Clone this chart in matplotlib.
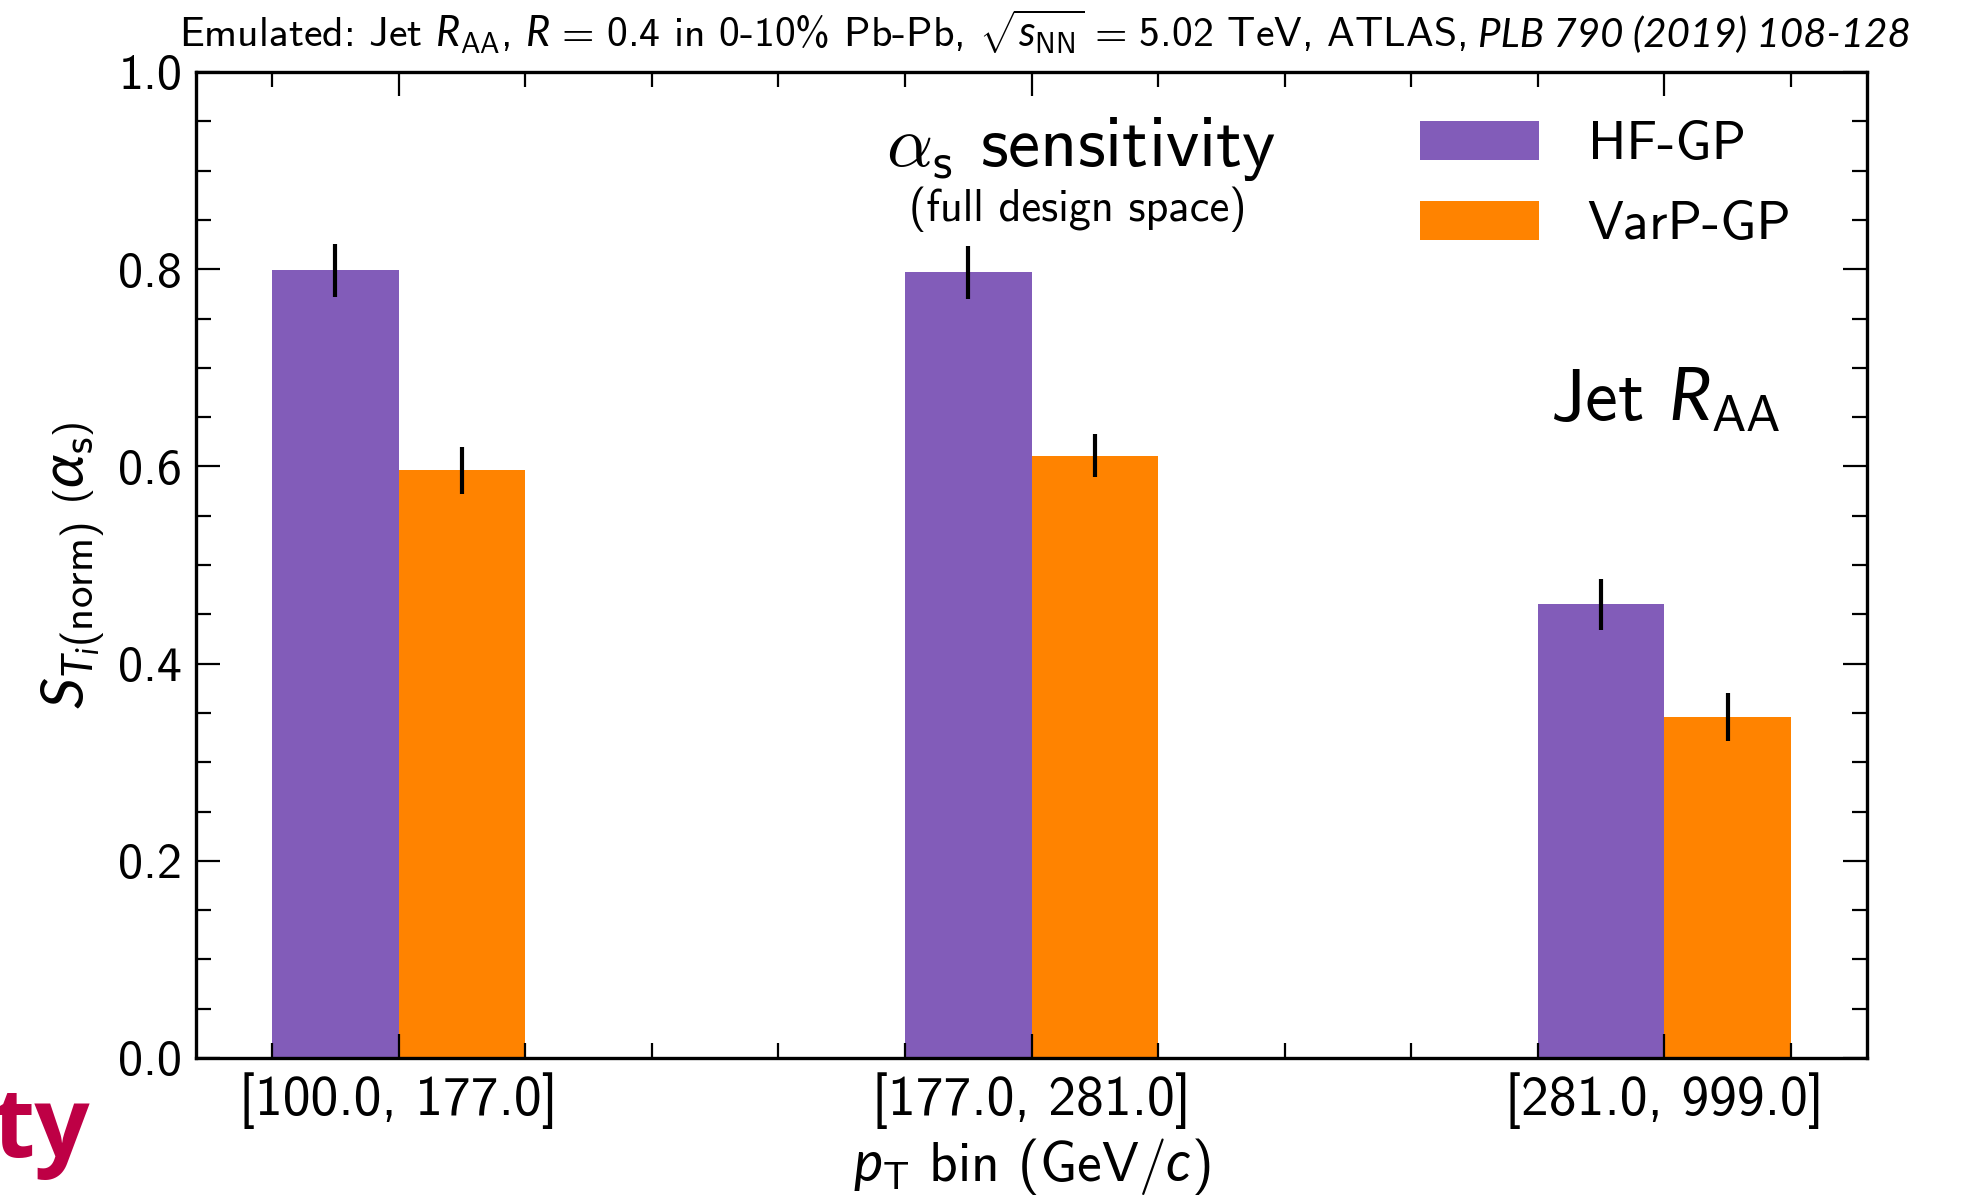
import matplotlib
matplotlib.use("Agg")
import matplotlib.pyplot as plt
from matplotlib.ticker import MultipleLocator, FormatStrFormatter
import numpy as np

# ---- data ----
bins = ["[100.0, 177.0]", "[177.0, 281.0]", "[281.0, 999.0]"]
hf_gp = [0.799, 0.797, 0.460]
hf_gp_err = [0.027, 0.027, 0.026]
varp_gp = [0.596, 0.611, 0.346]
varp_gp_err = [0.024, 0.022, 0.024]
series_labels = ["HF-GP", "VarP-GP"]
colors = ["#825cb9", "#ff8300"]

plt.rcParams['font.family'] = ['cmss10', 'DejaVu Sans']
plt.rcParams['mathtext.fontset'] = 'custom'
plt.rcParams['mathtext.rm'] = 'cmss10'
plt.rcParams['mathtext.sf'] = 'cmss10'
plt.rcParams['mathtext.it'] = 'Lato:italic'
plt.rcParams['mathtext.bf'] = 'cmss10'
plt.rcParams['axes.unicode_minus'] = False

fig = plt.figure(figsize=(19.61, 11.99), dpi=100)
W, H = 1961, 1199
ax = fig.add_axes([196 / W, 1 - 1058 / H, (1867 - 196) / W, (1058 - 72) / H])

x = np.arange(len(bins))
width = 0.2
ax.bar(x - width / 2, hf_gp, width, color=colors[0], label=series_labels[0],
       yerr=hf_gp_err, error_kw=dict(elinewidth=3, ecolor='black', capsize=0))
ax.bar(x + width / 2, varp_gp, width, color=colors[1], label=series_labels[1],
       yerr=varp_gp_err, error_kw=dict(elinewidth=3, ecolor='black', capsize=0))

ax.set_xlim(-0.32, 2.32)
ax.set_ylim(0, 1.0)
ax.set_xticks(x)
ax.set_xticklabels(bins)
ax.xaxis.set_minor_locator(MultipleLocator(0.2))
ax.yaxis.set_major_locator(MultipleLocator(0.2))
ax.yaxis.set_minor_locator(MultipleLocator(0.05))
ax.yaxis.set_major_formatter(FormatStrFormatter('%.1f'))
ax.tick_params(which='both', direction='in', top=True, right=True, width=1.6)
ax.tick_params(axis='y', labelsize=36)
ax.tick_params(axis='x', labelsize=40)
ax.tick_params(which='major', length=17, pad=10)
ax.tick_params(which='minor', length=11)
for s in ax.spines.values():
    s.set_linewidth(2.4)

ax.set_xlabel(r"$p_{\mathrm{T}}$ bin (GeV/$c$)", fontsize=40, labelpad=5)
ax.set_ylabel(r"$S_{T_{i}(\mathrm{norm})}\ \left(\alpha_{\mathrm{s}}\right)$", fontsize=44,
              labelpad=8)

# title: upright part then italic reference
t1 = fig.text(179 / W, 1 - 47 / H,
              r"Emulated: Jet $R_{\mathrm{AA}}$, $R\,=\,0.4$ in 0-10% Pb-Pb, "
              r"$\sqrt{s_{\mathrm{NN}}}\,=\,5.02$ TeV, ATLAS,",
              fontsize=30, ha='left', va='baseline')
fig.canvas.draw()
bb = t1.get_window_extent(renderer=fig.canvas.get_renderer())
fig.text((bb.x1 + 12) / W, 1 - 47 / H, "PLB 790 (2019) 108-128", fontsize=29,
         family='Lato', style='italic', ha='left', va='baseline')

fig.text(1081 / W, 1 - 166 / H, r"$\alpha_{\mathsf{s}}$ sensitivity", fontsize=52,
         ha='center', va='baseline', math_fontfamily='cm')
fig.text(1078 / W, 1 - 209 / H, "(full design space)", fontsize=32, ha='center', va='center')
fig.text(1781 / W, 1 - 421 / H, r"Jet $R_{\mathrm{AA}}$", fontsize=53, ha='right', va='baseline')

ax.legend(loc='upper right', bbox_to_anchor=(1 - 54 / 1671, 1 - 27 / 986),
          fontsize=39, frameon=False, handlelength=2.2,
          handleheight=0.75, handletextpad=0.9, borderaxespad=0.0, labelspacing=0.56)

fig.text(90 / W, 1 - 1157 / H, "ty", fontsize=70, fontweight='bold', color='#be0045',
         ha='right', va='baseline', family='Open Sans')

fig.savefig("out.png", dpi=100)
